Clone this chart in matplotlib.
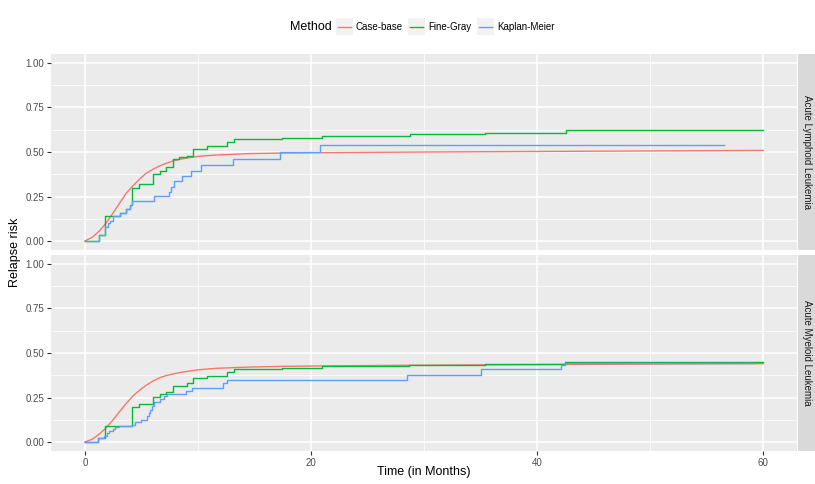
import numpy as np
import matplotlib
matplotlib.use('Agg')
import matplotlib.pyplot as plt
from matplotlib.patches import Rectangle
from matplotlib.lines import Line2D

plt.rcParams['font.family'] = ['Liberation Sans', 'DejaVu Sans']

W, H = 815, 484

methods = ['Case-base', 'Fine-Gray', 'Kaplan-Meier']
colors = ['#F8766D', '#00BA38', '#619CFF']
panels = ['Acute Lymphoid Leukemia', 'Acute Myeloid Leukemia']

# Acute Lymphoid Leukemia
all_cb_t = [0, 0.68, 1.27, 1.86, 2.45, 3.04, 3.63, 4.22, 4.81, 5.4, 5.99, 6.58, 7.17, 7.76,
            8.64, 10.1, 11.6, 14.5, 17.5, 20.4, 30, 40, 50, 60]
all_cb_v = [0, 0.023, 0.056, 0.10, 0.154, 0.21, 0.267, 0.308, 0.346, 0.38, 0.402, 0.421, 0.436, 0.449,
            0.462, 0.476, 0.483, 0.491, 0.494, 0.496, 0.500, 0.503, 0.506, 0.509]
all_fg_t = [0, 1.22, 1.78, 2.46, 3.11, 3.64, 4.03, 4.2, 4.8, 6.0, 6.6, 7.2, 7.8, 8.35, 9.0, 9.6,
            10.8, 12.6, 13.2, 17.4, 21.0, 28.8, 35.4, 42.6, 60]
all_fg_v = [0, 0.034, 0.141, 0.141, 0.156, 0.178, 0.203, 0.297, 0.323, 0.376, 0.395, 0.414, 0.46,
            0.474, 0.479, 0.515, 0.534, 0.558, 0.575, 0.581, 0.592, 0.599, 0.605, 0.625, 0.625]
all_km_t = [0, 1.22, 1.78, 2.0, 2.2, 2.46, 3.11, 3.64, 4.03, 4.17, 6.15, 7.48, 7.6, 7.92, 8.6,
            9.4, 10.3, 13.1, 17.3, 20.8, 56.5]
all_km_v = [0, 0.034, 0.08, 0.10, 0.114, 0.141, 0.156, 0.178, 0.203, 0.227, 0.253, 0.276, 0.306,
            0.335, 0.365, 0.395, 0.427, 0.46, 0.498, 0.537, 0.537]

# Acute Myeloid Leukemia
aml_cb_t = [0, 0.68, 1.27, 1.86, 2.45, 3.04, 3.63, 4.22, 4.81, 5.4, 5.99, 6.58, 7.17, 7.76,
            8.64, 10.1, 11.6, 14.5, 17.5, 20.4, 27.8, 40, 50, 60]
aml_cb_v = [0, 0.017, 0.045, 0.079, 0.122, 0.169, 0.215, 0.257, 0.29, 0.318, 0.341, 0.36, 0.373,
            0.382, 0.393, 0.406, 0.414, 0.421, 0.425, 0.427, 0.431, 0.435, 0.438, 0.44]
aml_fg_t = [0, 1.2, 1.77, 4.16, 4.8, 6.0, 6.6, 7.2, 7.8, 9.0, 9.6, 10.8, 12.6, 13.2, 17.4, 21.0,
            28.7, 35.4, 42.5, 60]
aml_fg_v = [0, 0.022, 0.092, 0.197, 0.215, 0.255, 0.272, 0.281, 0.316, 0.331, 0.36, 0.373, 0.395,
            0.41, 0.416, 0.425, 0.43, 0.436, 0.451, 0.451]
aml_km_t = [0, 1.2, 1.7, 1.92, 2.15, 2.45, 2.7, 3.0, 4.16, 4.45, 4.96, 5.5, 5.65, 5.8, 5.95, 6.1,
            6.6, 7.0, 7.3, 8.9, 9.5, 12.2, 12.6, 28.5, 35.0, 42.1, 42.5, 59.2]
aml_km_v = [0, 0.022, 0.036, 0.05, 0.06, 0.075, 0.082, 0.088, 0.097, 0.11, 0.125, 0.144, 0.163,
            0.182, 0.2, 0.223, 0.242, 0.257, 0.272, 0.285, 0.303, 0.331, 0.35, 0.378, 0.408, 0.434,
            0.442, 0.442]

x_ticks = [0, 20, 40, 60]
y_ticks = [0.0, 0.25, 0.5, 0.75, 1.0]
y_labels = ['0.00', '0.25', '0.50', '0.75', '1.00']

data = [
    [(all_cb_t, all_cb_v), (all_fg_t, all_fg_v), (all_km_t, all_km_v)],
    [(aml_cb_t, aml_cb_v), (aml_fg_t, aml_fg_v), (aml_km_t, aml_km_v)],
]


def fx(px):
    return px / W


def fy(py):
    return 1 - py / H


fig = plt.figure(figsize=(W / 100, H / 100), dpi=100)

panel_px = [(54, 250), (255, 451)]
left, right = 51, 797

for i, (top, bot) in enumerate(panel_px):
    ax = fig.add_axes([fx(left), fy(bot), fx(right - left), (bot - top) / H])
    ax.set_facecolor('#EBEBEB')
    for s in ax.spines.values():
        s.set_visible(False)
    ax.set_xlim(-3, 63)
    ax.set_ylim(-0.05, 1.05)
    ax.set_xticks(x_ticks)
    ax.set_xticks([10, 30, 50], minor=True)
    ax.set_yticks(y_ticks)
    ax.set_yticks([0.125, 0.375, 0.625, 0.875], minor=True)
    ax.set_yticklabels(y_labels)
    ax.grid(which='major', color='white', lw=1.1)
    ax.grid(which='minor', color='white', lw=0.55)
    ax.set_axisbelow(True)
    ax.tick_params(which='minor', length=0)
    ax.tick_params(which='major', length=3, width=0.8, color='#333333',
                   labelsize=7, labelcolor='#4D4D4D', pad=2)
    if i == 0:
        ax.tick_params(axis='x', which='both', length=0, labelbottom=False)
    for k, (t, v) in enumerate(data[i]):
        if k == 0:
            ax.plot(t, v, color=colors[k], lw=1.0)
        else:
            ax.plot(t, v, color=colors[k], lw=1.0, drawstyle='steps-post')

    # facet strip
    sax = fig.add_axes([fx(right + 1), fy(bot), fx(W - right - 1), (bot - top) / H])
    sax.set_facecolor('#D9D9D9')
    sax.set_xticks([])
    sax.set_yticks([])
    for s in sax.spines.values():
        s.set_visible(False)
    sax.text(0.5, 0.5, panels[i], rotation=-90, ha='center', va='center',
             fontsize=7, color='#1A1A1A', transform=sax.transAxes)

fig.text(fx(424), fy(472), 'Time (in Months)', ha='center', va='center', fontsize=9)
fig.text(fx(15), fy(252), 'Relapse risk', ha='center', va='center', rotation=90, fontsize=9)

# legend
fig.text(fx(290), fy(27), 'Method', ha='left', va='center', fontsize=9)
key_x = [336, 408, 477]
for k, m in enumerate(methods):
    fig.add_artist(Rectangle((fx(key_x[k]), fy(35)), fx(17), 17 / H,
                             facecolor='#F2F2F2', edgecolor='none', transform=fig.transFigure))
    fig.add_artist(Line2D([fx(key_x[k] + 2), fx(key_x[k] + 15)], [fy(27), fy(27)],
                          color=colors[k], lw=1.0, transform=fig.transFigure))
    fig.text(fx(key_x[k] + 20), fy(27), m, ha='left', va='center', fontsize=7)

fig.savefig('out.png', dpi=100)
